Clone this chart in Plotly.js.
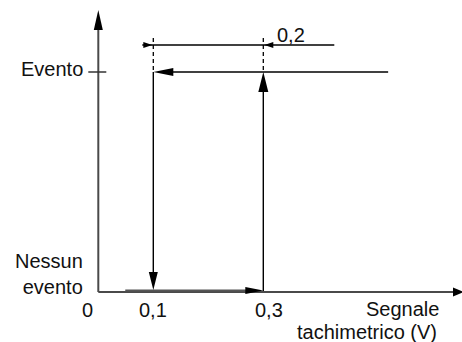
<!DOCTYPE html>
<html>
<head>
<meta charset="utf-8">
<script src="https://cdn.plot.ly/plotly-3.0.1.min.js"></script>
<style>html,body{margin:0;padding:0;background:#fff;}#chart{width:462px;height:342px;}</style>
</head>
<body>
<div id="chart"></div>
<script>
// ---- data ----
const thresholds = [0.1, 0.3];            // switch-off, switch-on signal (V)
const levels = [0, 1];                     // Nessun evento, Evento
const levelLabels = ['Nessun<br>evento', 'Evento'];
const xTickVals = [0, 0.1, 0.3];
const xTickText = ['0', '0,1', '0,3'];
const hysteresisLabel = '0,2';
const xAxisLabelLines = ['Segnale', 'tachimetrico (V)'];
const risingStart = 0.049;                 // start of lower branch
const fallingStart = 0.527;                // start of upper branch

// ---- geometry helpers (pixel sizes -> data units) ----
const W = 462, H = 342;
const X0 = 98.3, SX = 550, Y0 = 292, SY = 220;
const xr = [(0 - X0) / SX, (W - X0) / SX];
const yr = [(Y0 - H) / SY, Y0 / SY];
const dx = p => p / SX, dy = p => p / SY;

const font = {family: 'Liberation Sans, Arial, sans-serif', size: 20, color: '#111'};
const off = thresholds[0], on = thresholds[1];
const lo = levels[0], hi = levels[1];
const xEnd = xr[1] + dx(2), yEnd = yr[1] - dy(10);
const dimY = hi + dy(27);
const dashTop = hi + dy(35);

function tri(tx, ty, dir, len, wid) {
  let pts;
  const L = dir === 'up' || dir === 'down' ? dy(len) : dx(len);
  const Wd = dir === 'up' || dir === 'down' ? dx(wid / 2) : dy(wid / 2);
  if (dir === 'up') pts = [[tx, ty], [tx - Wd, ty - L], [tx + Wd, ty - L]];
  if (dir === 'down') pts = [[tx, ty], [tx - Wd, ty + L], [tx + Wd, ty + L]];
  if (dir === 'left') pts = [[tx, ty], [tx + L, ty - Wd], [tx + L, ty + Wd]];
  if (dir === 'right') pts = [[tx, ty], [tx - L, ty - Wd], [tx - L, ty + Wd]];
  return {type: 'path', xref: 'x', yref: 'y', layer: 'above',
    path: 'M' + pts.map(p => p[0] + ',' + p[1]).join('L') + 'Z',
    fillcolor: '#000', line: {width: 0}};
}

const axisCol = '#4a4a4a';
const traces = [
  // axes
  {x: [0, 0], y: [lo, yEnd - dy(18)], mode: 'lines', line: {color: axisCol, width: 2}},
  {x: [0, xEnd - dx(9)], y: [lo, lo], mode: 'lines', line: {color: axisCol, width: 2}},
  // Evento tick
  {x: [-dx(10), dx(8)], y: [hi, hi], mode: 'lines', line: {color: '#333', width: 1.5}},
  // lower (rising) branch
  {x: [risingStart, on - dx(16)], y: [lo + dy(1.6), lo + dy(1.6)], mode: 'lines', line: {color: '#555', width: 2}},
  {x: [on, on], y: [lo + dy(1), hi - dy(18)], mode: 'lines', line: {color: '#000', width: 1.4}},
  // upper (falling) branch
  {x: [fallingStart, off + dx(16)], y: [hi, hi], mode: 'lines', line: {color: '#000', width: 1.4}},
  {x: [off, off], y: [hi, lo + dy(16)], mode: 'lines', line: {color: '#000', width: 1.4}},
  // dashed extension lines
  {x: [off, off], y: [hi + dy(2), dashTop], mode: 'lines', line: {color: '#000', width: 1.3, dash: '4px,3px'}},
  {x: [on, on], y: [hi + dy(2), dashTop], mode: 'lines', line: {color: '#000', width: 1.3, dash: '4px,3px'}},
  // dimension line
  {x: [off - dx(11), on + dx(71)], y: [dimY, dimY], mode: 'lines', line: {color: '#000', width: 1.3}}
];
traces.forEach(t => { t.type = 'scatter'; t.hoverinfo = 'skip'; t.showlegend = false; });

const shapes = [
  tri(0, yEnd, 'up', 20, 9),
  tri(xEnd, lo, 'right', 11, 9),
  tri(off, hi, 'left', 20, 8),
  tri(off, lo + dy(2), 'down', 18, 9),
  tri(on, lo + dy(1.5), 'right', 18, 7),
  tri(on, hi, 'up', 20, 10),
  tri(off - dx(1), dimY, 'right', 9, 6),
  tri(on + dx(1), dimY, 'left', 9, 6)
];

const annotations = [];
// y level labels
annotations.push({x: -dx(13), y: hi + dy(3), xref: 'x', yref: 'y', text: levelLabels[1],
  showarrow: false, xanchor: 'right', yanchor: 'middle', font: font});
annotations.push({x: -dx(13), y: lo + dy(18), xref: 'x', yref: 'y', text: levelLabels[0], align: 'right',
  showarrow: false, xanchor: 'right', yanchor: 'middle', font: font});
// x tick labels
xTickVals.forEach((v, i) => {
  const shift = v === 0 ? -dx(11) : (v === on ? dx(6) : 0);
  annotations.push({x: v + shift, y: lo - dy(18), xref: 'x', yref: 'y', text: xTickText[i],
    showarrow: false, xanchor: 'center', yanchor: 'middle', font: font});
});
// axis label (two lines)
annotations.push({x: on + dx(178), y: lo - dy(17), xref: 'x', yref: 'y', text: xAxisLabelLines[0],
  showarrow: false, xanchor: 'right', yanchor: 'middle', font: font});
annotations.push({x: on + dx(176), y: lo - dy(40), xref: 'x', yref: 'y', text: xAxisLabelLines[1],
  showarrow: false, xanchor: 'right', yanchor: 'middle', font: font});
// hysteresis label
annotations.push({x: on + dx(28), y: dimY + dy(10), xref: 'x', yref: 'y', text: hysteresisLabel,
  showarrow: false, xanchor: 'center', yanchor: 'middle', font: font});

const layout = {
  width: W, height: H,
  margin: {l: 0, r: 0, t: 0, b: 0, pad: 0},
  paper_bgcolor: '#fff', plot_bgcolor: '#fff',
  showlegend: false,
  xaxis: {range: xr, visible: false, fixedrange: true},
  yaxis: {range: yr, visible: false, fixedrange: true},
  shapes: shapes,
  annotations: annotations
};

Plotly.newPlot('chart', traces, layout, {displayModeBar: false, staticPlot: true});
</script>
</body>
</html>
